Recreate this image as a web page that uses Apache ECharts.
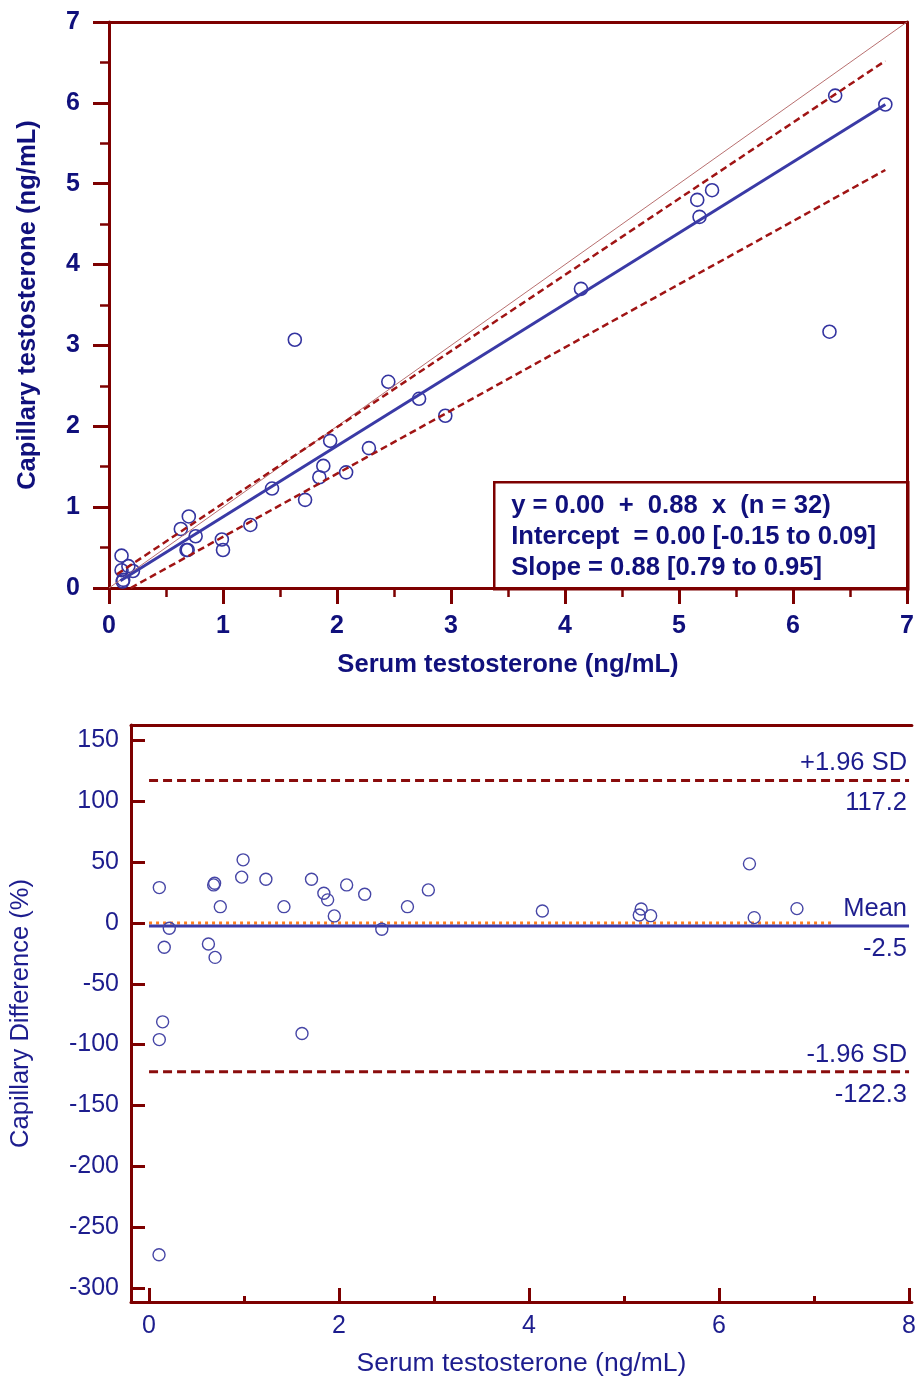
<!DOCTYPE html>
<html>
<head>
<meta charset="utf-8">
<title>Capillary vs serum testosterone</title>
<script src="https://cdn.jsdelivr.net/npm/echarts@6.0.0/dist/echarts.min.js"></script>
<style>
  html, body { margin: 0; padding: 0; background: #fff; }
  #chart { width: 919px; height: 1378px; }
</style>
</head>
<body>
<div id="chart"></div>
<script>
// top panel: serum vs capillary (ng/mL)
const serum = [6.37, 6.81, 5.16, 5.29, 5.18, 4.14, 6.32, 1.63, 2.45, 2.72, 2.95, 1.94, 2.28, 1.88, 1.845, 2.08,
  1.43, 1.72, 1.24, 0.70, 0.63, 0.76, 0.69, 0.68, 0.99, 1.00, 0.11, 0.17, 0.11, 0.21, 0.12, 0.125];
const capillary = [6.09, 5.98, 4.80, 4.92, 4.59, 3.70, 3.17, 3.07, 2.55, 2.34, 2.13, 1.82, 1.73, 1.51, 1.37, 1.43,
  1.23, 1.09, 0.78, 0.885, 0.73, 0.64, 0.47, 0.47, 0.60, 0.47, 0.40, 0.27, 0.22, 0.21, 0.08, 0.10];
const identityLine = [[0, 0], [7, 7]];
const fitLine = [[0.1, 0.09], [6.81, 5.98]];
const fitUpper = [[0.07, 0.17], [6.81, 6.52]];
const fitLower = [[0.19, 0.0], [6.81, 5.17]];
const fitText = [
  'y = 0.00  +  0.88  x  (n = 32)',
  'Intercept  = 0.00 [-0.15 to 0.09]',
  'Slope = 0.88 [0.79 to 0.95]'
];

// bottom panel: difference plot (%)
const diffSerum = [0.108, 0.213, 0.16, 0.143, 0.108, 0.105, 0.68, 0.69, 0.75, 0.625, 0.695, 0.99, 0.975, 1.23,
  1.42, 1.61, 1.71, 1.84, 1.88, 1.95, 2.08, 2.27, 2.45, 2.72, 2.94, 4.14, 5.18, 5.16, 5.28, 6.32, 6.37, 6.82];
const diffPct = [29.1, -4.4, -20, -81.3, -95.9, -272.8, 31.3, 32.7, 13.4, -17.3, -28.3, 51.9, 37.7, 36,
  13.4, -90.9, 36, 24.5, 19, 5.8, 31.3, 23.6, -5.2, 13.4, 27.2, 9.9, 11.5, 6.6, 6.0, 48.6, 4.4, 11.8];
const upperSD = 117.2;
const meanDiff = -2.5;
const lowerSD = -122.3;
const zeroEnd = 7.22;
const refNames = ['+1.96 SD', 'Mean', '-1.96 SD'];
const refValues = [upperSD, meanDiff, lowerSD];
const diffXTicks = [0, 2, 4, 6, 8];
const diffXMinor = [1, 3, 5, 7];
const diffYTicks = [-300, -250, -200, -150, -100, -50, 0, 50, 100, 150];

const red = '#7d0000';
const navy = '#10107c';
const navy2 = '#1d1d8e';
const blue = '#3a3aa6';
const font = '"Liberation Sans", Arial, sans-serif';
const topSize = 25.6;
const botSize = 25.5;

const chart = echarts.init(document.getElementById('chart'));

function refLine(value, style) {
  return {
    type: 'line', xAxisIndex: 2, yAxisIndex: 2, symbol: 'none', z: 3,
    data: [[0, value], [8, value]],
    lineStyle: style
  };
}

function refLabels(texts, dy) {
  return {
    type: 'scatter', xAxisIndex: 2, yAxisIndex: 2, symbolSize: 0, silent: true, z: 5,
    itemStyle: { color: navy2, opacity: 1 },
    data: refValues.map((v, i) => ({ value: [8, v], name: texts[i] })),
    label: {
      show: true, position: 'left', distance: 2, offset: [0, dy],
      formatter: p => p.name,
      color: navy2, textBorderWidth: 0, fontSize: botSize, fontFamily: font
    }
  };
}

chart.setOption({
  animation: false,
  grid: [
    { left: 109, top: 22, width: 798, height: 566 },
    { left: 130, top: 725, width: 785, height: 577 }
  ],
  xAxis: [
    {
      gridIndex: 0, type: 'value', min: 0, max: 7, interval: 1,
      axisLine: { onZero: false, lineStyle: { color: red, width: 3 } },
      axisTick: { length: 16, lineStyle: { color: red, width: 3 } },
      minorTick: { show: true, splitNumber: 2, length: 9, lineStyle: { color: red, width: 2.5 } },
      splitLine: { show: false },
      axisLabel: { margin: 26, fontSize: 25, fontWeight: 'bold', color: navy, fontFamily: font },
      name: 'Serum testosterone (ng/mL)', nameLocation: 'middle', nameGap: 64,
      nameTextStyle: { fontSize: topSize, fontWeight: 'bold', color: navy, fontFamily: font }
    },
    {
      gridIndex: 0, type: 'value', min: 0, max: 7, position: 'top',
      axisLine: { onZero: false, lineStyle: { color: red, width: 3 } },
      axisTick: { show: false }, axisLabel: { show: false }, splitLine: { show: false }
    },
    {
      gridIndex: 1, type: 'value', min: -0.19, max: 8.03, position: 'bottom',
      axisLine: { onZero: false, lineStyle: { color: red, width: 3 } },
      axisTick: { inside: true, length: 14, customValues: diffXTicks, lineStyle: { color: red, width: 3 } },
      axisLabel: { margin: 12, fontSize: 25, color: navy2, fontFamily: font, customValues: diffXTicks },
      splitLine: { show: false },
      name: 'Serum testosterone (ng/mL)', nameLocation: 'middle', nameGap: 48,
      nameTextStyle: { fontSize: 26.5, color: navy2, fontFamily: font }
    },
    {
      gridIndex: 1, type: 'value', min: -0.19, max: 8.03, position: 'bottom',
      axisLine: { show: false, onZero: false },
      axisTick: { inside: true, length: 6, customValues: diffXMinor, lineStyle: { color: red, width: 3 } },
      axisLabel: { show: false }, splitLine: { show: false }
    },
    {
      gridIndex: 1, type: 'value', min: -0.19, max: 8.03, position: 'top',
      axisLine: { onZero: false, lineStyle: { color: red, width: 3 } },
      axisTick: { show: false }, axisLabel: { show: false }, splitLine: { show: false }
    }
  ],
  yAxis: [
    {
      gridIndex: 0, type: 'value', min: 0, max: 7, interval: 1,
      axisLine: { onZero: false, lineStyle: { color: red, width: 3 } },
      axisTick: { length: 16, lineStyle: { color: red, width: 3 } },
      minorTick: { show: true, splitNumber: 2, length: 9, lineStyle: { color: red, width: 2.5 } },
      splitLine: { show: false },
      axisLabel: { margin: 29, fontSize: 25, fontWeight: 'bold', color: navy, fontFamily: font },
      name: 'Capillary testosterone (ng/mL)', nameLocation: 'middle', nameGap: 68,
      nameTextStyle: { fontSize: topSize, fontWeight: 'bold', color: navy, fontFamily: font }
    },
    {
      gridIndex: 0, type: 'value', min: 0, max: 7, position: 'right',
      axisLine: { onZero: false, lineStyle: { color: red, width: 3 } },
      axisTick: { show: false }, axisLabel: { show: false }, splitLine: { show: false }
    },
    {
      gridIndex: 1, type: 'value', min: -311.7, max: 162.8,
      axisLine: { onZero: false, lineStyle: { color: red, width: 3 } },
      axisTick: { inside: true, length: 14, customValues: diffYTicks, lineStyle: { color: red, width: 3 } },
      axisLabel: { margin: 12, fontSize: 25, color: navy2, fontFamily: font, customValues: diffYTicks },
      splitLine: { show: false },
      name: 'Capillary Difference (%)', nameLocation: 'middle', nameGap: 97,
      nameTextStyle: { fontSize: botSize, color: navy2, fontFamily: font }
    }
  ],
  series: [
    {
      type: 'line', xAxisIndex: 0, yAxisIndex: 0, symbol: 'none', data: identityLine,
      lineStyle: { color: '#b87070', width: 1 }
    },
    {
      type: 'line', xAxisIndex: 0, yAxisIndex: 0, symbol: 'none', data: fitUpper,
      lineStyle: { color: '#a01414', width: 2.5, type: [7, 4] }
    },
    {
      type: 'line', xAxisIndex: 0, yAxisIndex: 0, symbol: 'none', data: fitLower,
      lineStyle: { color: '#a01414', width: 2.5, type: [7, 4] }
    },
    {
      type: 'line', xAxisIndex: 0, yAxisIndex: 0, symbol: 'none', data: fitLine,
      lineStyle: { color: blue, width: 3 }
    },
    {
      type: 'scatter', xAxisIndex: 0, yAxisIndex: 0, symbolSize: 13,
      data: serum.map((v, i) => [v, capillary[i]]),
      itemStyle: { color: 'rgba(255,255,255,0)', borderColor: '#3434a0', borderWidth: 1.6, opacity: 1 }
    },
    refLine(upperSD, { color: '#8a0c0c', width: 3, type: [9, 5] }),
    refLine(lowerSD, { color: '#8a0c0c', width: 3, type: [9, 5] }),
    {
      type: 'line', xAxisIndex: 2, yAxisIndex: 2, symbol: 'none', z: 2,
      data: [[0, 0], [zeroEnd, 0]],
      lineStyle: { color: '#ff7f1e', width: 3, type: [3, 4] }
    },
    refLine(meanDiff, { color: blue, width: 3 }),
    refLabels(refNames, -17),
    refLabels(refValues.map(String), 23),
    {
      type: 'scatter', xAxisIndex: 2, yAxisIndex: 2, symbolSize: 12, z: 4,
      data: diffSerum.map((v, i) => [v, diffPct[i]]),
      itemStyle: { color: 'rgba(255,255,255,0)', borderColor: '#4646a6', borderWidth: 1.4, opacity: 1 }
    }
  ],
  graphic: [
    {
      type: 'group', left: 493, top: 481, z: 100,
      children: [
        { type: 'rect', shape: { x: 0, y: 0, width: 414, height: 107 },
          style: { fill: '#fff', stroke: red, lineWidth: 2.5 } }
      ].concat(fitText.map((t, i) => ({
        type: 'text', x: 17, y: 24 + i * 31,
        style: { text: t, fill: navy, font: 'bold ' + topSize + 'px ' + font, textVerticalAlign: 'middle' }
      })))
    }
  ]
});
</script>
</body>
</html>
